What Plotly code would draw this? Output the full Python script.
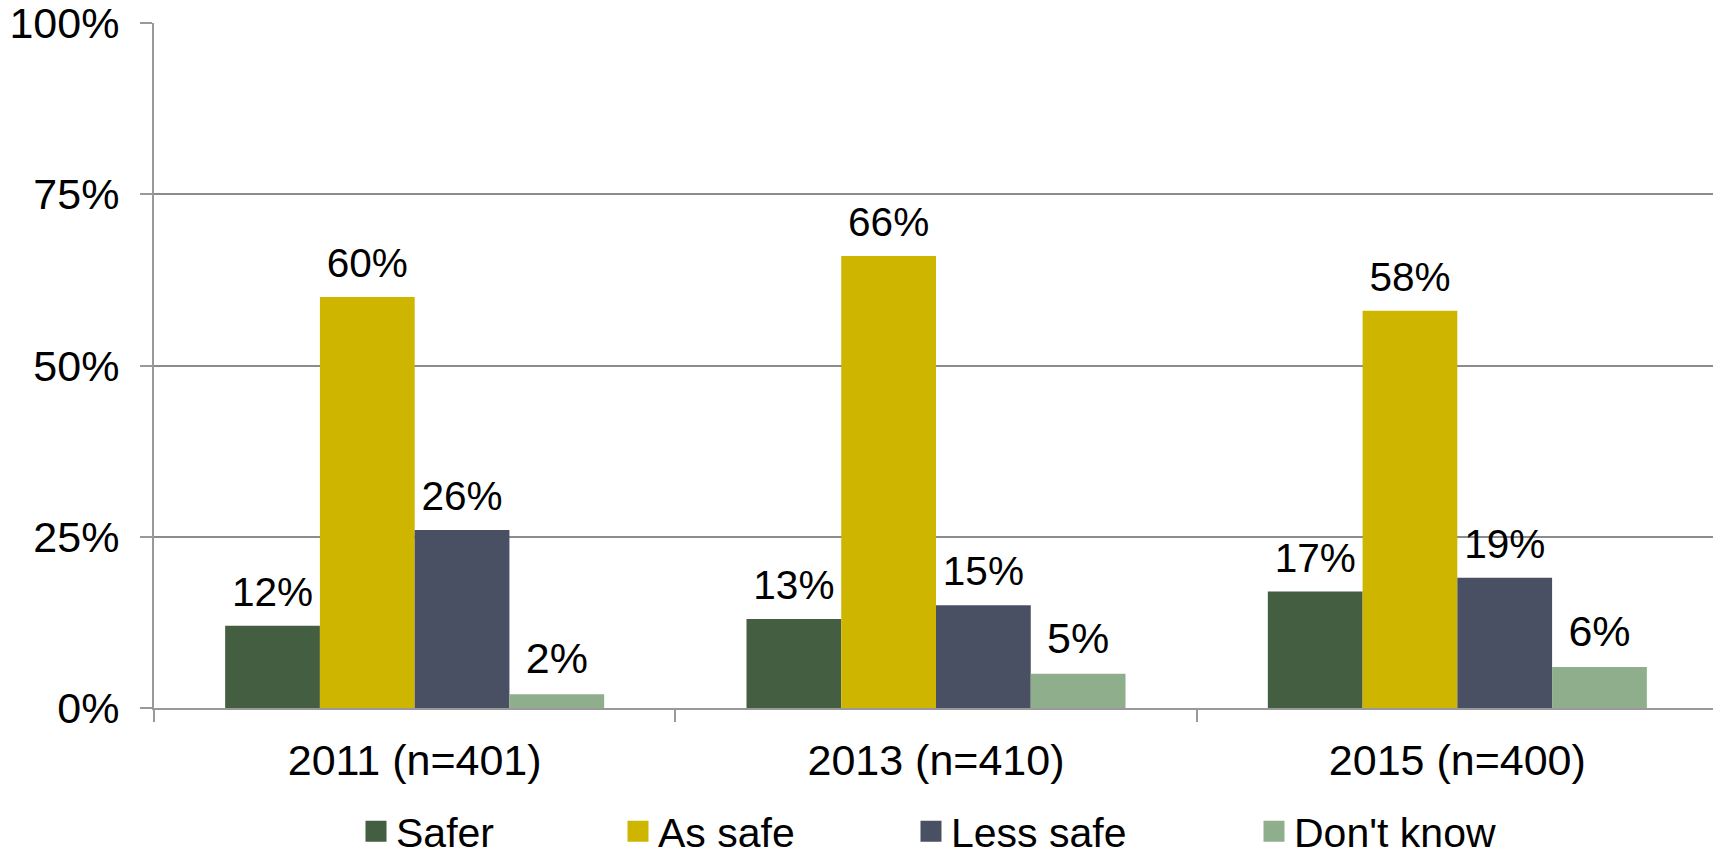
import plotly.graph_objects as go

categories = ["2011 (n=401)", "2013 (n=410)", "2015 (n=400)"]
series_names = ["Safer", "As safe", "Less safe", "Don't know"]
safer = [12, 13, 17]
as_safe = [60, 66, 58]
less_safe = [26, 15, 19]
dont_know = [2, 5, 6]
y_ticks = [0, 25, 50, 75, 100]
y_tick_labels = ["0%", "25%", "50%", "75%", "100%"]

colors = ["#435E40", "#CDB500", "#4A5064", "#8FAF8C"]
values = [safer, as_safe, less_safe, dont_know]
legend_x = [348, 610, 903, 1246]

FONT = "Liberation Sans, Arial, sans-serif"
# page body has an 8px default margin; size the figure to fit inside it
OFF = 8
W, H = 1721 - OFF, 865 - OFF
HS = "<span style='font-size:86px'>\u200a</span>"  # lifts outside labels a little

fig = go.Figure()
for i, (name, vals) in enumerate(zip(series_names, values)):
    fig.add_trace(go.Bar(
        x=categories, y=vals, name=name,
        marker=dict(color=colors[i], line=dict(width=0)),
        texttemplate=HS + "%{y}%" + HS, textposition="outside",
        textfont=dict(size=43, color="black", family=FONT),
        cliponaxis=False, showlegend=False,
    ))
# legend entries (larger square swatches than the default bar swatch)
for i, name in enumerate(series_names):
    fig.add_trace(go.Scatter(
        x=[None], y=[None], mode="markers", name=name,
        marker=dict(symbol="square", size=16, color=colors[i],
                    line=dict(width=5, color=colors[i])),
        hoverinfo="skip",
        legend="legend" if i == 0 else f"legend{i+1}",
    ))

legend_common = dict(
    orientation="h", xref="container", yref="container",
    yanchor="bottom", xanchor="left", y=0,
    font=dict(size=41, color="black", family=FONT),
    bgcolor="rgba(0,0,0,0)", borderwidth=0,
)
layout_legends = {}
for i, lx in enumerate(legend_x):
    key = "legend" if i == 0 else f"legend{i+1}"
    layout_legends[key] = dict(legend_common, x=lx / W)

fig.update_layout(
    width=W, height=H,
    margin=dict(l=154 - OFF, r=3, t=23 - OFF, b=157, autoexpand=False),
    paper_bgcolor="white", plot_bgcolor="white",
    bargap=0.273, bargroupgap=0,
    barmode="group",
    font=dict(family=FONT, size=43, color="black"),
    showlegend=True,
    **layout_legends,
)
fig.update_yaxes(
    range=[0, 100], tickvals=y_ticks, ticktext=y_tick_labels,
    showgrid=True, gridcolor="#8c8c8c", gridwidth=1.5,
    showline=True, linecolor="#999999", linewidth=2,
    ticks="outside", ticklen=12, tickcolor="#999999", tickwidth=2,
    ticklabelstandoff=12, ticklabeloverflow="allow", automargin=False,
    tickfont=dict(size=43, family=FONT, color="black"),
    zeroline=False,
)
fig.update_xaxes(
    showline=True, linecolor="#999999", linewidth=2,
    ticks="outside", ticklen=12, tickcolor="#999999", tickwidth=2,
    tickson="boundaries", automargin=False,
    ticklabelstandoff=13,
    tickfont=dict(size=43, family=FONT, color="black"),
)

fig.write_html("out.html")
